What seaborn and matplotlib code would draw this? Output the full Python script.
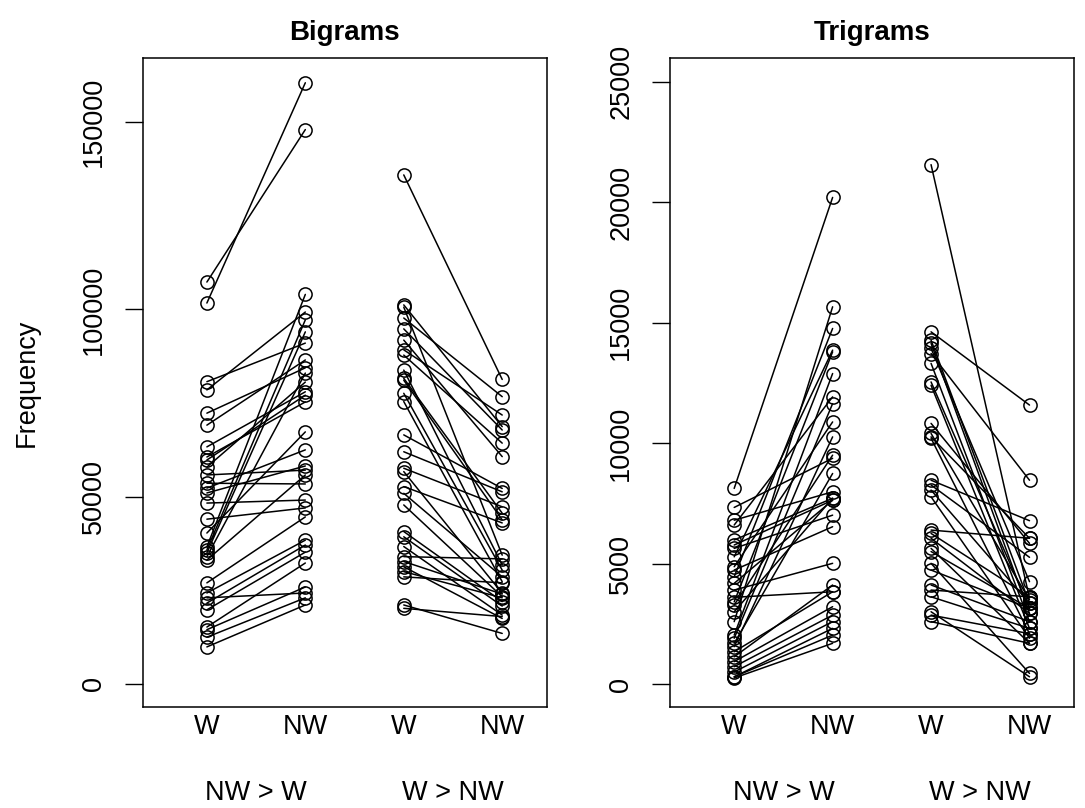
import numpy as np
import pandas as pd
import matplotlib
matplotlib.use("Agg")
import matplotlib.pyplot as plt
import seaborn as sns

# ---------------- data ----------------
panel_titles = ["Bigrams", "Trigrams"]
pos_labels = ["W", "NW", "W", "NW"]
group_labels = ["NW > W", "W > NW"]

# Bigrams, group NW > W  (paired W / NW values)
bi_g1_W = [107300, 101700, 80700, 78500, 72300, 69100, 63300, 60600, 59800, 57900,
           55800, 53600, 52300, 51000, 48300, 44000, 40300, 36600, 35800, 35000,
           34000, 33100, 27000, 24300, 23000, 21600, 19800, 15200, 14500, 12500, 9900]
bi_g1_NW = [148000, 160500, 91000, 99300, 84400, 86500, 78000, 75300, 77100, 80600,
            57100, 53400, 62500, 58200, 49100, 47000, 67300, 104000, 97200, 94000,
            83000, 55800, 44600, 38400, 24300, 37100, 35200, 32300, 25900, 23000, 21100]

# Bigrams, group W > NW
bi_g2_W = [135900, 101200, 100600, 97700, 94800, 91800, 89200, 87800, 83800, 81600,
           81100, 77600, 75400, 66500, 62000, 57600, 56700, 52700, 50900, 47800,
           40700, 39300, 36700, 34000, 32700, 31300, 30000, 28600, 21100, 20200]
bi_g2_NW = [81300, 68700, 34400, 76700, 67800, 60700, 71800, 64300, 31800, 45600,
            43800, 30400, 27300, 52200, 51300, 47300, 24200, 43000, 28600, 23300,
            22000, 20800, 18400, 33400, 24000, 17500, 23000, 27000, 13500, 18000]

# Trigrams, group NW > W
tri_g1_W = [8120, 7330, 6800, 6600, 5980, 5770, 5630, 5280, 4870, 4730,
            4450, 4180, 3900, 3600, 3410, 3280, 3000, 2590, 2030, 1900,
            1690, 1550, 1340, 1130, 930, 720, 500, 300, 300, 250]
tri_g1_NW = [20200, 9370, 7980, 11920, 7710, 7630, 7010, 13860, 10880, 6530,
             14760, 7630, 5010, 3830, 13790, 9500, 7710, 15660, 12890, 11640,
             8740, 10260, 3830, 4110, 3210, 2860, 2590, 2310, 2030, 1690]

# Trigrams, group W > NW
tri_g2_W = [21560, 14620, 14270, 14140, 13930, 13720, 13310, 12540, 12400, 10820,
            10400, 10260, 10200, 8460, 8260, 8050, 7770, 6390, 6250, 6050,
            5630, 5500, 5010, 4730, 4110, 3900, 3620, 3000, 2860, 2590]
tri_g2_NW = [3570, 11580, 3350, 2930, 4250, 8460, 2590, 3140, 2310, 5840,
             3490, 6050, 2090, 6780, 5260, 3350, 1900, 6050, 3620, 2930,
             1690, 3140, 440, 3140, 2590, 3620, 2310, 300, 2090, 1690]

panels = [
    (bi_g1_W, bi_g1_NW, bi_g2_W, bi_g2_NW),
    (tri_g1_W, tri_g1_NW, tri_g2_W, tri_g2_NW),
]
y_ticks = [[0, 50000, 100000, 150000], [0, 5000, 10000, 15000, 20000, 25000]]
y_lims = [(-6140, 167030), (-954, 25975)]


def long_frame(g1w, g1n, g2w, g2n):
    rows = []
    for g, (ws, ns) in enumerate([(g1w, g1n), (g2w, g2n)]):
        for i, (w, n) in enumerate(zip(ws, ns)):
            rows.append({"pos": 1 + 2 * g, "value": w, "pair": f"{g}-{i}"})
            rows.append({"pos": 2 + 2 * g, "value": n, "pair": f"{g}-{i}"})
    return pd.DataFrame(rows)


# ---------------- style ----------------
sns.set_style("white")
plt.rcParams["font.family"] = ["Liberation Sans", "DejaVu Sans"]
plt.rcParams["text.color"] = "black"
plt.rcParams["xtick.color"] = "black"
plt.rcParams["ytick.color"] = "black"
plt.rcParams["xtick.labelcolor"] = "black"
plt.rcParams["ytick.labelcolor"] = "black"
FS = 19.5

fig = plt.figure(figsize=(10.85, 8.08), dpi=100)
W, H = 1085, 808
axes_px = [(142.7, 58.3, 404, 648.7), (670, 58.3, 404, 648.7)]

for k, (box, pdata) in enumerate(zip(axes_px, panels)):
    x0, y0, w, h = box
    ax = fig.add_axes([x0 / W, 1 - (y0 + h) / H, w / W, h / H])
    df = long_frame(*pdata)
    sns.lineplot(data=df, x="pos", y="value", units="pair", estimator=None,
                 color="black", linewidth=1.1, marker="o", markersize=9.5,
                 markerfacecolor="none", markeredgecolor="black",
                 markeredgewidth=1.1, legend=False, ax=ax)
    ax.set_xlim(0.348, 4.452)
    ax.set_ylim(*y_lims[k])
    ax.set_xticks([1, 2, 3, 4])
    ax.set_xticklabels(pos_labels, fontsize=FS, color="black")
    ax.set_yticks(y_ticks[k])
    ax.set_yticklabels([str(t) for t in y_ticks[k]], fontsize=FS,
                       rotation=90, va="center", color="black")
    ax.tick_params(axis="x", length=0, pad=5)
    ax.tick_params(axis="y", length=12.7, width=1.0, direction="out",
                   pad=13, color="black", left=True)
    ax.set_xlabel("")
    ax.set_ylabel("")
    for sp in ax.spines.values():
        sp.set_visible(True)
        sp.set_color("black")
        sp.set_linewidth(1.1)
    ax.set_title(panel_titles[k], fontsize=20, fontweight="bold", pad=13,
                 color="black")
    for gi, lab in enumerate(group_labels):
        ax.text(1.5 + 2 * gi, (y0 + h - 793) / h, lab, fontsize=FS,
                ha="center", va="center", color="black",
                transform=ax.get_xaxis_transform())

fig.text(27 / W, 1 - 383 / H, "Frequency", rotation=90, fontsize=FS,
         ha="center", va="center", color="black")

fig.savefig("out.png", dpi=100, facecolor="white")
